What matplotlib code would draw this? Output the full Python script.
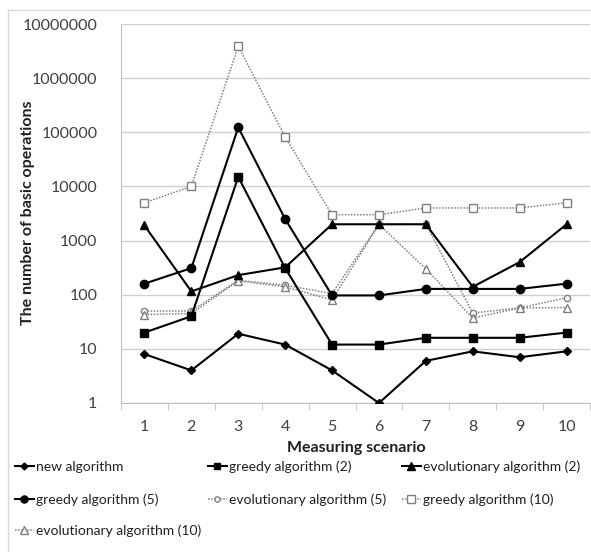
import numpy as np
import matplotlib.pyplot as plt
from matplotlib.patches import Rectangle

plt.rcParams['font.family'] = ['Lato', 'DejaVu Sans']

scenarios = [1, 2, 3, 4, 5, 6, 7, 8, 9, 10]
new_alg = [8, 4, 19, 12, 4, 1, 6, 9, 7, 9]
greedy_2 = [20, 40, 15000, 310, 12, 12, 16, 16, 16, 20]
evol_2 = [1900, 115, 230, 320, 2000, 2000, 2000, 140, 400, 2000]
greedy_5 = [160, 310, 123000, 2500, 97, 97, 128, 128, 128, 160]
evol_5 = [50, 50, 185, 150, 105, 2000, 2000, 46, 57, 88]
greedy_10 = [5000, 10000, 3900000, 82000, 3000, 3000, 4000, 4000, 4000, 5000]
evol_10 = [43, 45, 180, 140, 80, 2000, 300, 37, 57, 58]

W, H = 591, 552
fig = plt.figure(figsize=(W / 100, H / 100), dpi=100)
ax = fig.add_axes([121 / W, 1 - 403 / H, 469 / W, 379 / H])

# solid series sit above the dotted ones where they overlap
solid = dict(color='black', lw=1.5, mfc='black', mec='black', zorder=3)
dotted = dict(color='#808080', lw=1.1, ls=(0, (1.0, 1.0)), mfc='white', mec='#808080', mew=1.0, zorder=2)

lines = []
lines += ax.plot(scenarios, new_alg, marker='D', ms=4.2, label='new algorithm', **solid)
lines += ax.plot(scenarios, greedy_2, marker='s', ms=5.8, label='greedy algorithm (2)', **solid)
lines += ax.plot(scenarios, evol_2, marker='^', ms=6, label='evolutionary algorithm (2)', **solid)
lines += ax.plot(scenarios, greedy_5, marker='o', ms=6, label='greedy algorithm (5)', **solid)
lines += ax.plot(scenarios, evol_5, marker='o', ms=4.5, label='evolutionary algorithm (5)', **dotted)
lines += ax.plot(scenarios, greedy_10, marker='s', ms=6, label='greedy algorithm (10)', **dotted)
lines += ax.plot(scenarios, evol_10, marker='^', ms=6, label='evolutionary algorithm (10)', **dotted)

ax.set_yscale('log')
ax.set_ylim(1, 1e7)
ax.set_xlim(0.5, 10.5)
yt = [10 ** k for k in range(8)]
ax.set_yticks(yt)
ax.set_yticklabels([str(v) for v in yt])
ax.minorticks_off()
ax.yaxis.grid(True, color='#d0d0d0', lw=1.0)
ax.set_axisbelow(True)
ax.tick_params(axis='y', length=0, pad=17, labelsize=11.5, colors='#404040')

ax.set_xticks(scenarios)
ax.set_xticks(np.arange(0.5, 11, 1), minor=True)
ax.tick_params(axis='x', which='major', length=0, pad=12, labelsize=11.5, colors='#404040')
ax.tick_params(axis='x', which='minor', length=5, color='#bfbfbf')

for s in ['top', 'right']:
    ax.spines[s].set_visible(False)
for s in ['left', 'bottom']:
    ax.spines[s].set_color('#bfbfbf')

fig.text(356 / W, 1 - 448 / H, 'Measuring scenario', fontsize=11.5, fontweight='bold',
         color='#202020', ha='center', va='center')
fig.text(28 / W, 1 - 213 / H, 'The number of basic operations', fontsize=11.5, fontweight='bold',
         color='#202020', ha='center', va='center', rotation=90)

# legend entries laid out row by row, three per row
col_x = [15, 208, 402]
row_y = [467, 500, 531]
for i, ln in enumerate(lines):
    x = col_x[i % 3] / W
    y = 1 - row_y[i // 3] / H
    leg = fig.legend([ln], [ln.get_label()], loc='center left', bbox_to_anchor=(x, y),
                     frameon=False, fontsize=10, handlelength=1.35, handletextpad=0.15,
                     borderpad=0, borderaxespad=0, markerscale=0.85)
    for t in leg.get_texts():
        t.set_color('#202020')

fig.patches.append(Rectangle((8 / W, -0.1), 1.2, 1 - 10 / H + 0.1, transform=fig.transFigure,
                             fill=False, ec='#d9d9d9', lw=1.0))

fig.savefig('out.png', dpi=100)
